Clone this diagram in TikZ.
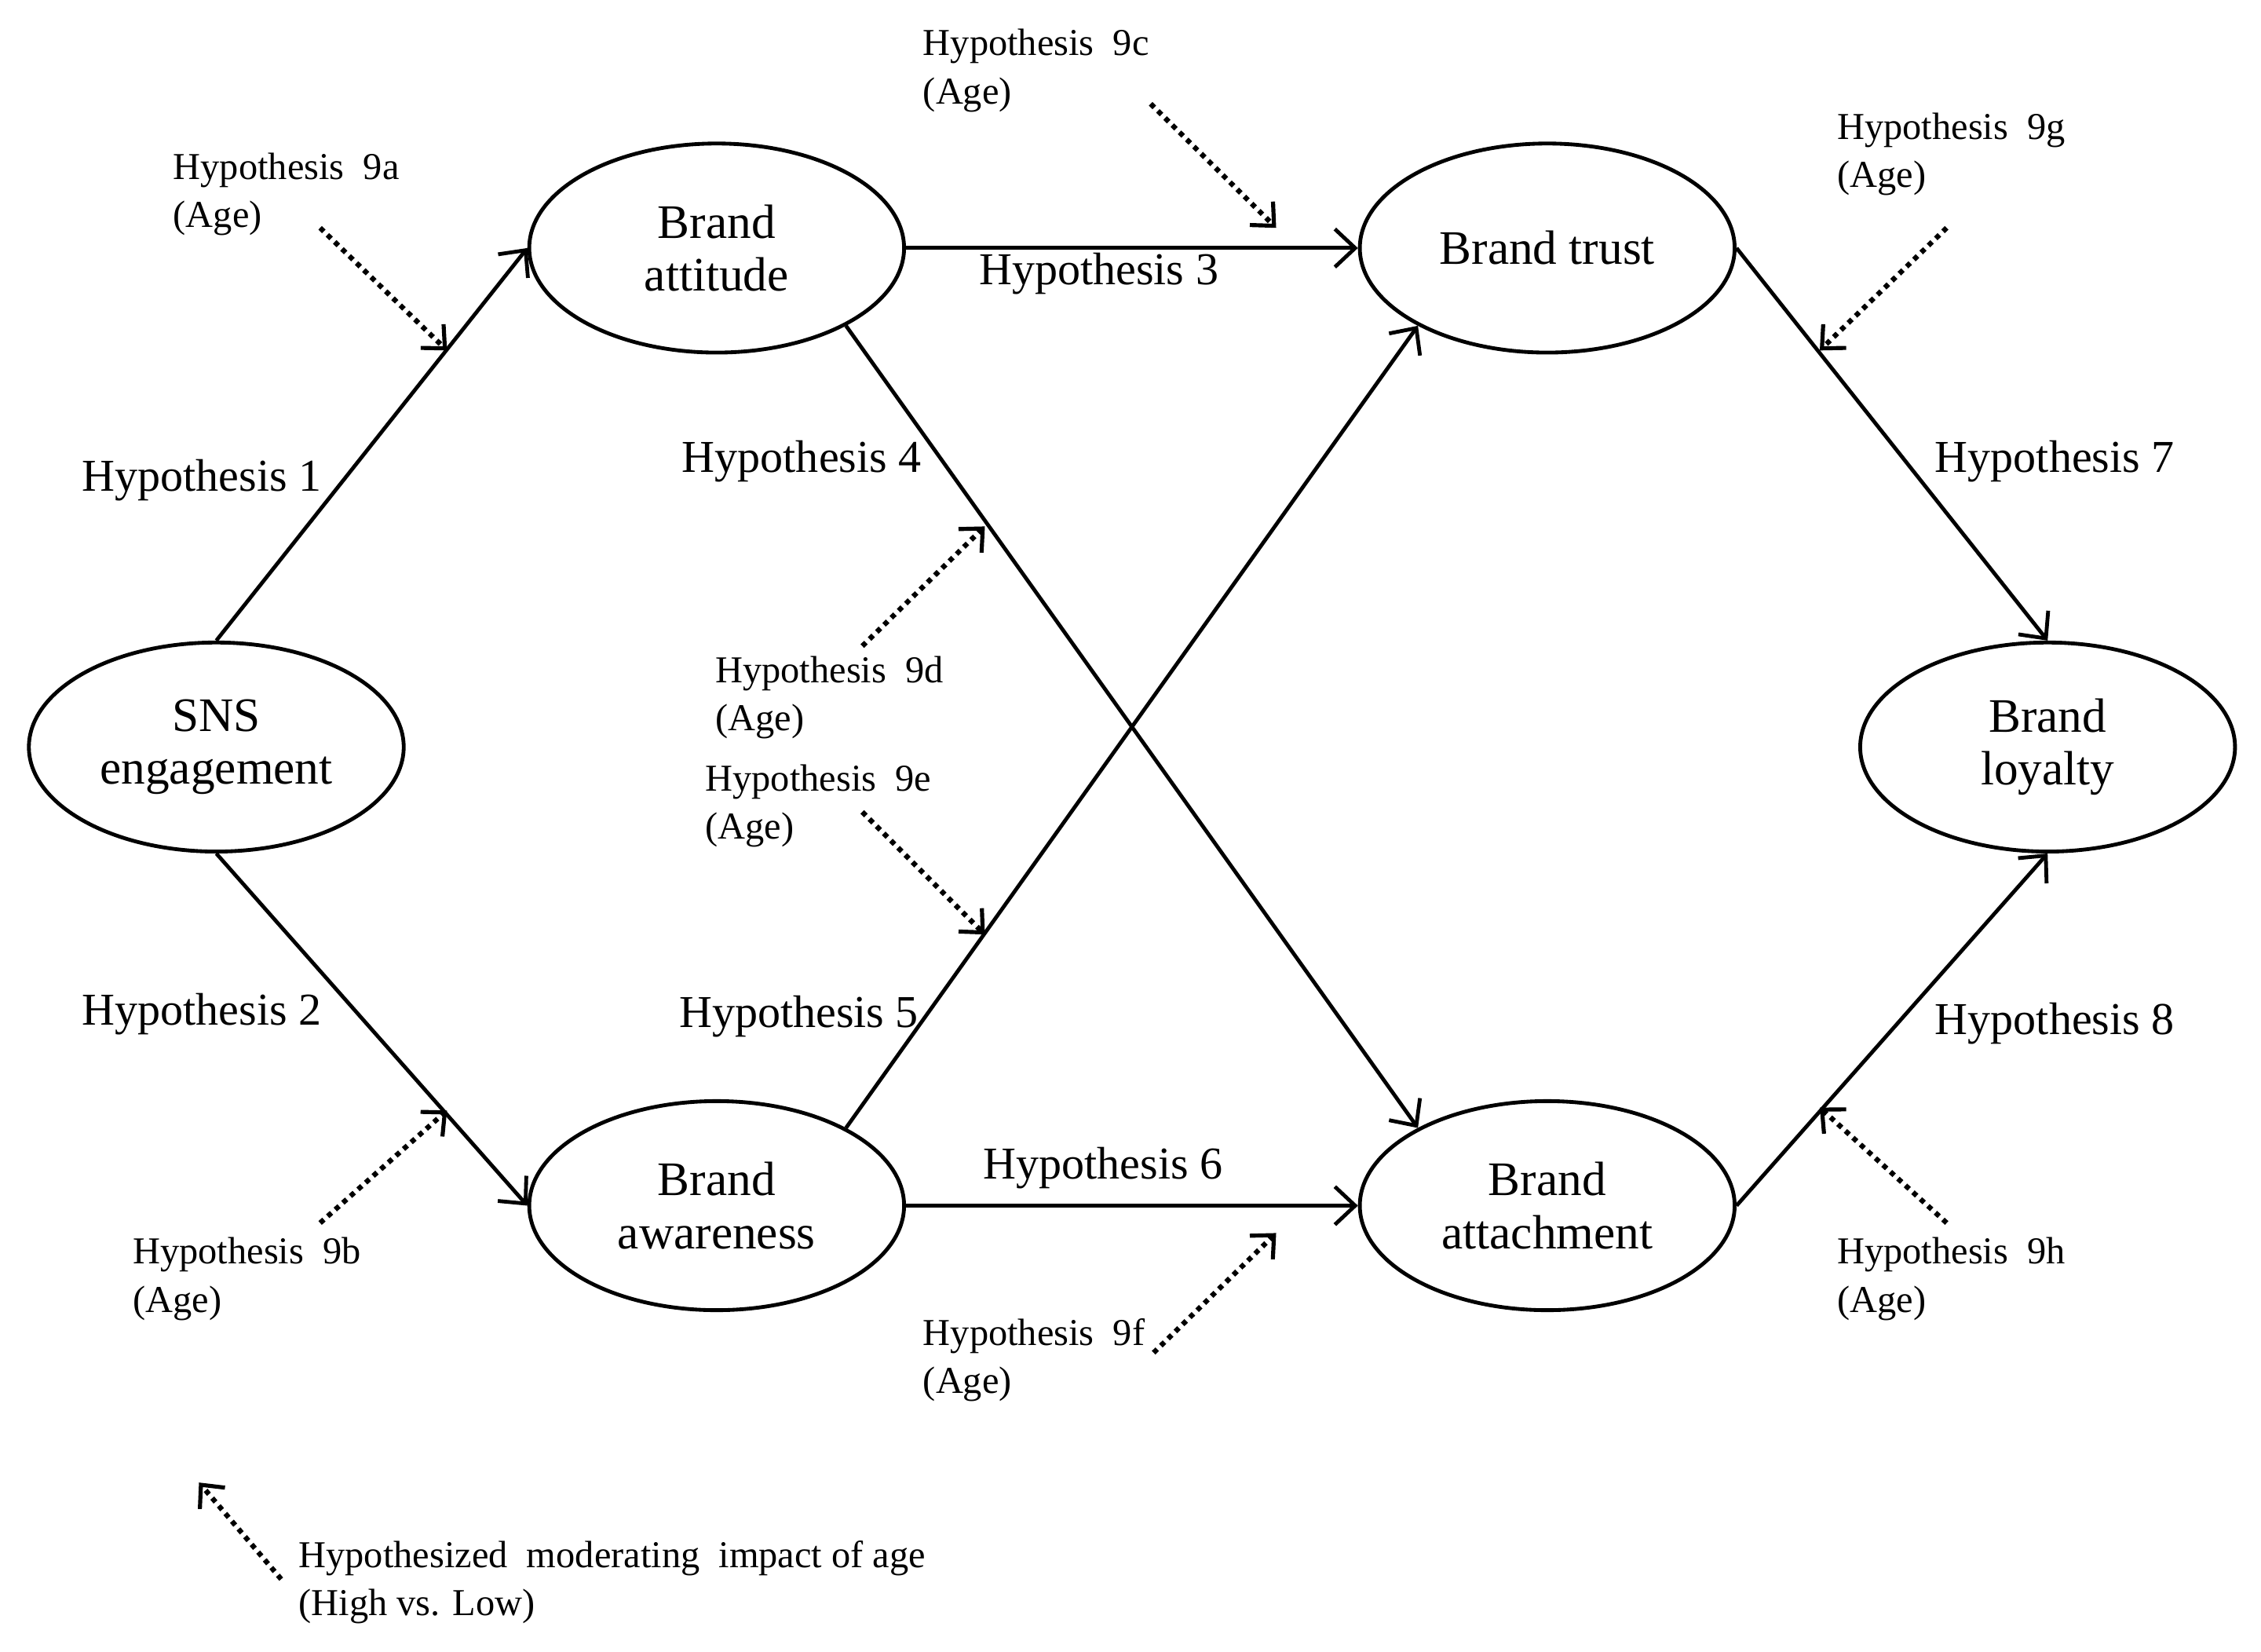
\documentclass[tikz,border=0pt]{standalone}
\usepackage{fontspec}
\setmainfont{Liberation Serif}
\usetikzlibrary{shapes.geometric,arrows.meta}
\begin{document}
\begin{tikzpicture}[x=0.02cm,y=-0.02cm,
  ell/.style={ellipse,draw,line width=1.5pt,minimum width=5.2cm,minimum height=2.9cm,align=center,font=\fontsize{19}{21}\selectfont},
  hyp/.style={font=\fontsize{18}{21}\selectfont},
  mod/.style={font=\fontsize{15}{19}\selectfont,align=left,anchor=north west},
  arr/.style={line width=1.5pt,-{Straight Barb[length=8pt,width=15pt,line width=1.5pt]}},
  dot/.style={line width=2pt,dotted,-{Straight Barb[length=7pt,width=13pt,line width=1.6pt]}}]
\useasboundingbox (0,0) rectangle (1568,1145);
\fill[white] (0,0) rectangle (1568,1145);
\node[ell] (sns) at (150,518) {SNS\\engagement};
\node[ell] (att) at (497,172) {Brand\\attitude};
\node[ell] (tru) at (1073,172) {Brand trust};
\node[ell] (awa) at (497,836) {Brand\\awareness};
\node[ell] (ach) at (1073,836) {Brand\\attachment};
\node[ell] (loy) at (1420,518) {Brand\\loyalty};
\draw[arr] (sns.north) -- (att.west);
\draw[arr] (sns.south) -- (awa.west);
\draw[arr] (att.east) -- (tru.west);
\draw[arr] (att.-31) -- (ach.149);
\draw[arr] (awa.31) -- (tru.-149);
\draw[arr] (awa.east) -- (ach.west);
\draw[arr] (tru.east) -- (loy.north);
\draw[arr] (ach.east) -- (loy.south);
\node[hyp] (h1) at (140,333) {Hypothesis 1};
\node[hyp] (h2) at (140,703) {Hypothesis 2};
\node[hyp] (h3) at (762,190) {Hypothesis 3};
\node[hyp] (h4) at (556,320) {Hypothesis 4};
\node[hyp] (h5) at (554,705) {Hypothesis 5};
\node[hyp] (h6) at (765,810) {Hypothesis 6};
\node[hyp] (h7) at (1425,320) {Hypothesis 7};
\node[hyp] (h8) at (1425,710) {Hypothesis 8};
\node[mod] (m9a) at (114,100) {Hypothesis~ 9a\\(Age)};
\node[mod] (m9b) at (86,852) {Hypothesis~ 9b\\(Age)};
\node[mod] (m9c) at (634,14) {Hypothesis~ 9c\\(Age)};
\node[mod] (m9d) at (490,449) {Hypothesis~ 9d\\(Age)};
\node[mod] (m9e) at (483,524) {Hypothesis~ 9e\\(Age)};
\node[mod] (m9f) at (634,908) {Hypothesis~ 9f\\(Age)};
\node[mod] (m9g) at (1268,72) {Hypothesis~ 9g\\(Age)};
\node[mod] (m9h) at (1268,852) {Hypothesis~ 9h\\(Age)};
\node[mod] (leg) at (201,1062) {Hypothesized~ moderating~ impact of age\\(High vs. Low)};
\coordinate (a1) at (222,158); \coordinate (a2) at (310,243);
\coordinate (b1) at (222,848); \coordinate (b2) at (310,770);
\coordinate (c1) at (798,72); \coordinate (c2) at (885,158);
\coordinate (d1) at (598,448); \coordinate (d2) at (683,365);
\coordinate (e1) at (598,563); \coordinate (e2) at (683,648);
\coordinate (f1) at (800,938); \coordinate (f2) at (885,855);
\coordinate (g1) at (1350,158); \coordinate (g2) at (1262,243);
\coordinate (k1) at (1350,848); \coordinate (k2) at (1262,768);
\coordinate (l1) at (195,1095); \coordinate (l2) at (138,1028);
\foreach \p in {a,b,c,d,e,f,g,k,l} \draw[dot] (\p1) -- (\p2);
\end{tikzpicture}
\end{document}
